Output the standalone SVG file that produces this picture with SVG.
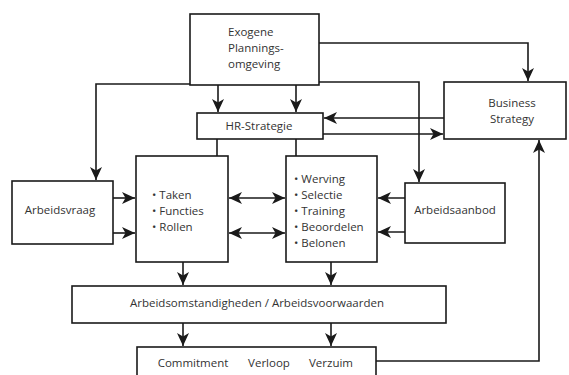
<svg xmlns="http://www.w3.org/2000/svg" width="569" height="375" viewBox="0 0 569 375">
<defs>
<marker id="ah" markerUnits="userSpaceOnUse" markerWidth="14" markerHeight="14" viewBox="0 0 14 14" refX="13" refY="7" orient="auto-start-reverse">
<path d="M0,1 L13,7 L0,13 L3.5,7 z" fill="#1a1a1a"/>
</marker>
</defs>
<style>
.box{fill:#fff;stroke:#1a1a1a;stroke-width:1.6}
.c{fill:none;stroke:#1a1a1a;stroke-width:1.6}
text{font-family:"Open Sans","Noto Sans","DejaVu Sans",sans-serif;font-size:11.5px;fill:#333}
.m{text-anchor:middle}
</style>
<rect width="569" height="375" fill="#fff"/>
<g id="connectors">
<path class="c" d="M319,43 H528 V81" marker-end="url(#ah)"/>
<path class="c" d="M190,84 H96 V180" marker-end="url(#ah)"/>
<path class="c" d="M319,82 H419 V182" marker-end="url(#ah)"/>
<path class="c" d="M218,85 V112" marker-end="url(#ah)"/>
<path class="c" d="M296,85 V112" marker-end="url(#ah)"/>
<path class="c" d="M444,118 H324" marker-end="url(#ah)"/>
<path class="c" d="M323,134 H443" marker-end="url(#ah)"/>
<path class="c" d="M217,139 V156"/>
<path class="c" d="M296,139 V156"/>
<path class="c" d="M104,198 H135" marker-end="url(#ah)"/>
<path class="c" d="M104,233 H135" marker-end="url(#ah)"/>
<path class="c" d="M229,198 H285" marker-start="url(#ah)" marker-end="url(#ah)"/>
<path class="c" d="M229,233 H285" marker-start="url(#ah)" marker-end="url(#ah)"/>
<path class="c" d="M413,198 H378" marker-end="url(#ah)"/>
<path class="c" d="M413,232 H378" marker-end="url(#ah)"/>
<path class="c" d="M183,262 V285" marker-end="url(#ah)"/>
<path class="c" d="M331,262 V285" marker-end="url(#ah)"/>
<path class="c" d="M183,323 V346" marker-end="url(#ah)"/>
<path class="c" d="M331,323 V346" marker-end="url(#ah)"/>
<path class="c" d="M376,361 H539 V140" marker-end="url(#ah)"/>
</g>
<g id="exogene">
<rect class="box" x="190" y="14" width="129" height="71"/>
<text x="228" y="36">Exogene</text>
<text x="228" y="52">Plannings-</text>
<text x="228" y="68">omgeving</text>
</g>
<g id="business">
<rect class="box" x="444" y="82" width="122" height="57"/>
<text class="m" x="512" y="107">Business</text>
<text class="m" x="512" y="123">Strategy</text>
</g>
<g id="hr">
<rect class="box" x="197" y="113" width="126" height="26"/>
<text class="m" x="259" y="130">HR-Strategie</text>
</g>
<g id="arbeidsvraag">
<rect class="box" x="12" y="181" width="101" height="63"/>
<text class="m" x="60" y="214">Arbeidsvraag</text>
</g>
<g id="taken">
<rect class="box" x="136" y="156" width="92" height="106"/>
<text x="152" y="199">• Taken</text>
<text x="152" y="215">• Functies</text>
<text x="152" y="231">• Rollen</text>
</g>
<g id="werving">
<rect class="box" x="286" y="156" width="91" height="106"/>
<text x="294" y="183">• Werving</text>
<text x="294" y="199">• Selectie</text>
<text x="294" y="215">• Training</text>
<text x="294" y="231">• Beoordelen</text>
<text x="294" y="247">• Belonen</text>
</g>
<g id="arbeidsaanbod">
<rect class="box" x="405" y="183" width="100" height="60"/>
<text class="m" x="455" y="214">Arbeidsaanbod</text>
</g>
<g id="arbeidsomstandigheden">
<rect class="box" x="72" y="286" width="374" height="37"/>
<text class="m" x="257" y="307">Arbeidsomstandigheden / Arbeidsvoorwaarden</text>
</g>
<g id="commitment">
<rect class="box" x="137" y="347" width="239" height="40"/>
<text class="m" x="193" y="367">Commitment</text>
<text class="m" x="269" y="367">Verloop</text>
<text class="m" x="331" y="367">Verzuim</text>
</g>
</svg>
